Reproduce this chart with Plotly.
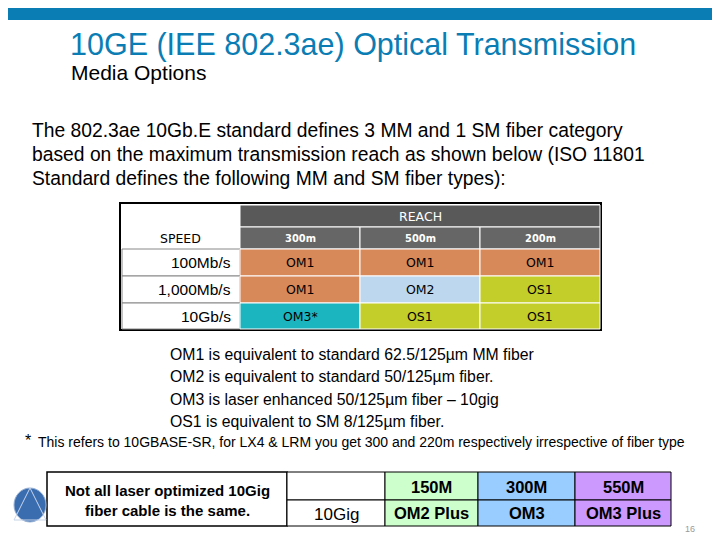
import plotly.graph_objects as go

# slide data
title = "10GE (IEE 802.3ae) Optical Transmission"
subtitle = "Media Options"
intro = ["The 802.3ae 10Gb.E standard defines 3 MM and 1 SM fiber category",
         "based on the maximum transmission reach as shown below (ISO 11801",
         "Standard defines the following MM and SM fiber types):"]
reach_cols = ["300m", "500m", "200m"]
speeds = ["100Mb/s", "1,000Mb/s", "10Gb/s"]
fiber = [["OM1", "OM1", "OM1"],
         ["OM1", "OM2", "OS1"],
         ["OM3*", "OS1", "OS1"]]
notes = ["OM1 is equivalent to standard 62.5/125µm MM fiber",
         "OM2 is equivalent to standard 50/125µm fiber.",
         "OM3 is laser enhanced 50/125µm fiber – 10gig",
         "OS1 is equivalent to SM 8/125µm fiber."]
footnote = "This refers to 10GBASE-SR, for LX4 & LRM you get 300 and 220m respectively irrespective of fiber type"
ten_gig_reach = ["150M", "300M", "550M"]
ten_gig_type = ["OM2 Plus", "OM3", "OM3 Plus"]

fiber_colors = {"OM1": "#D8895A", "OM2": "#BDD7EE", "OS1": "#C3CE2A", "OM3*": "#1BB5C0"}
ten_gig_colors = ["#CCFFCC", "#99CCFF", "#CC99FF"]
BLUE = "#0A7DB4"
F = "Liberation Sans, Arial, sans-serif"
V = "DejaVu Sans, Verdana, sans-serif"
OFF = 8  # page body margin

fig = go.Figure()
shapes = []
ann = []


def rect(x0, y0, x1, y1, fill, line="black", w=1):
    shapes.append(dict(type="rect", x0=x0, y0=y0, x1=x1, y1=y1,
                       fillcolor=fill, line=dict(color=line, width=w), layer="below"))


def text(x, y, s, size, color="black", anchor="left", family=F, bold=False):
    if bold:
        s = "<b>" + s + "</b>"
    ann.append(dict(x=x, y=y, text=s, showarrow=False, xanchor=anchor, yanchor="middle",
                    font=dict(size=size, color=color, family=family)))


# header band and titles
rect(-10, -10, 730, 20, BLUE, line=BLUE, w=0)
text(68, 44, title, 30.5, BLUE, family=F)
text(69, 72, subtitle, 21)
for i, line in enumerate(intro):
    text(30, 130 + i * 24, line, 19.3)

# fiber table
rect(120, 203, 601, 330, "white", w=2)
rect(240, 205, 600, 227, "#595959", line="white")
text(420, 216, "REACH", 12.5, "white", "center", V)
text(180, 238, "SPEED", 12.5, "black", "center", V)
col_x = [240, 360, 480, 600]
row_y = [249, 276, 303, 329]
for j, c in enumerate(reach_cols):
    rect(col_x[j], 227, col_x[j + 1], 249, "#666666", line="white")
    text((col_x[j] + col_x[j + 1]) / 2, 238, c, 11, "white", "center", "DejaVu Sans Condensed", True)
for i, sp in enumerate(speeds):
    rect(122, row_y[i], 240, row_y[i + 1], "white", line="#888888")
    text(233, (row_y[i] + row_y[i + 1]) / 2, sp, 15.5, "black", "right", F)
    for j in range(3):
        v = fiber[i][j]
        rect(col_x[j], row_y[i], col_x[j + 1], row_y[i + 1], fiber_colors[v], line="white")
        text((col_x[j] + col_x[j + 1]) / 2, (row_y[i] + row_y[i + 1]) / 2, v, 12.5, "black", "center", V)

for i, n in enumerate(notes):
    text(168, 354 + i * 22.5, n, 15.8)
text(23, 440, "*", 16)
text(36, 442, footnote, 14)

# 10 gig table
rect(47, 472, 287, 526, "white", w=1.5)
text(167, 490, "Not all laser optimized 10Gig", 15, bold=True, anchor="center")
text(167, 510, "fiber cable is the same.", 15, bold=True, anchor="center")
rect(287, 472, 385, 500, "white")
rect(287, 500, 385, 526, "white")
text(336, 514, "10Gig", 17, anchor="center")
gx = [385, 478, 575, 671]
for j in range(3):
    rect(gx[j], 472, gx[j + 1], 500, ten_gig_colors[j])
    rect(gx[j], 500, gx[j + 1], 526, ten_gig_colors[j])
    text((gx[j] + gx[j + 1]) / 2, 487, ten_gig_reach[j], 16.5, anchor="center", bold=True)
    text((gx[j] + gx[j + 1]) / 2, 513, ten_gig_type[j], 16.5, anchor="center", bold=True)

# logo
shapes.append(dict(type="circle", x0=14, y0=488, x1=46, y1=522,
                   fillcolor="#3A6DB0", line=dict(color="#9AB3D6", width=1)))
shapes.append(dict(type="path", path="M 30 488 L 14 520 L 46 520 Z",
                   line=dict(color="#C8D4E8", width=1)))
text(4, 531, "新 瑞 科 技", 7.5, "#1F4E8C", family="Noto Sans CJK SC", bold=True)
text(690, 529, "16", 9, "#999999", anchor="center")

fig.update_layout(width=720, height=540, margin=dict(l=0, r=0, t=0, b=0),
                  paper_bgcolor="white", plot_bgcolor="white",
                  shapes=shapes, annotations=ann, showlegend=False,
                  xaxis=dict(range=[OFF, 720 + OFF], visible=False, fixedrange=True),
                  yaxis=dict(range=[540 + OFF, OFF], visible=False, fixedrange=True))
fig.write_html("out.html")
